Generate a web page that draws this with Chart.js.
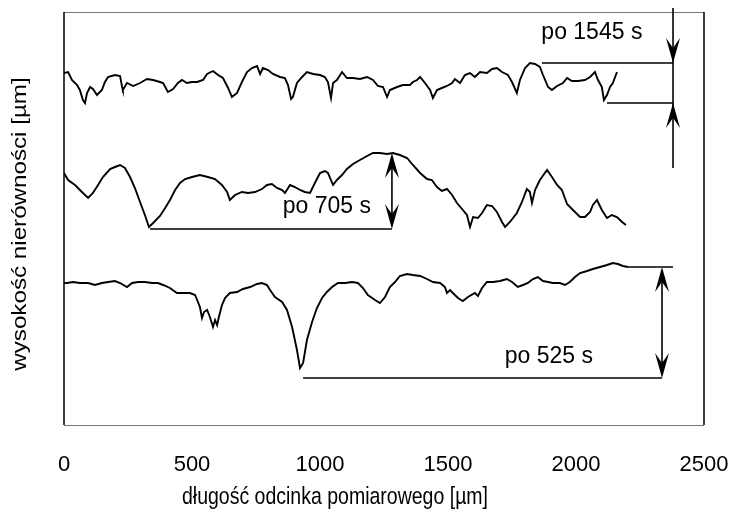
<!DOCTYPE html>
<html>
<head>
<meta charset="utf-8">
<script src="https://cdn.jsdelivr.net/npm/chart.js@4.4.1/dist/chart.umd.min.js"></script>
<style>
  html, body { margin: 0; padding: 0; background: #fff; }
  #wrap { width: 734px; height: 517px; }
</style>
</head>
<body>
<div id="wrap"><canvas id="profileChart" width="734" height="517"></canvas></div>
<script>
// x: długość odcinka [µm], y: wysokość (jednostki względne, bez skali)
const xTicks = [0, 500, 1000, 1500, 2000, 2500];
const xTitle = "długość odcinka pomiarowego [µm]";
const yTitle = "wysokość nierówności [µm]";

const profile1545X = [0, 16, 31, 51, 62, 74, 82, 90, 102, 113, 129, 148, 160, 172, 199, 219, 227, 230, 246, 270, 297, 324, 348, 375, 387, 406, 426, 445, 461, 480, 500, 520, 543, 559, 582, 602, 621, 641, 656, 676, 695, 715, 734, 754, 766, 777, 797, 816, 844, 863, 875, 887, 894, 910, 930, 949, 973, 1000, 1019, 1031, 1043, 1051, 1066, 1086, 1105, 1129, 1156, 1184, 1207, 1226, 1246, 1262, 1273, 1301, 1324, 1351, 1363, 1379, 1391, 1410, 1430, 1441, 1457, 1476, 1496, 1516, 1527, 1547, 1566, 1586, 1605, 1625, 1652, 1672, 1691, 1711, 1734, 1750, 1769, 1781, 1801, 1820, 1840, 1859, 1871, 1891, 1906, 1926, 1949, 1965, 1984, 2008, 2035, 2055, 2074, 2086, 2101, 2109, 2121, 2133, 2144, 2160];
const profile1545Y = [352, 353, 345, 340, 335, 325, 322, 332, 338, 336, 330, 335, 343, 348, 350, 349, 338, 335, 342, 339, 342, 346, 345, 343, 342, 333, 336, 342, 345, 342, 343, 343, 345, 351, 354, 350, 347, 337, 328, 332, 343, 353, 357, 359, 351, 357, 355, 351, 348, 347, 340, 326, 328, 342, 348, 353, 351, 350, 348, 343, 327, 342, 345, 353, 347, 347, 346, 348, 345, 339, 338, 328, 335, 338, 340, 340, 343, 345, 348, 342, 335, 327, 335, 337, 339, 342, 346, 342, 350, 352, 348, 353, 352, 356, 357, 353, 350, 343, 332, 345, 357, 362, 361, 358, 350, 338, 335, 339, 342, 347, 344, 344, 345, 348, 353, 345, 338, 325, 330, 338, 342, 353];

const profile705X = [0, 16, 43, 70, 94, 113, 133, 152, 180, 199, 219, 238, 258, 277, 297, 316, 332, 348, 375, 395, 414, 434, 453, 473, 500, 531, 562, 590, 617, 637, 648, 668, 695, 719, 746, 773, 793, 812, 832, 852, 863, 883, 902, 922, 941, 961, 980, 1000, 1019, 1031, 1051, 1066, 1086, 1105, 1129, 1156, 1184, 1207, 1234, 1262, 1285, 1312, 1340, 1363, 1391, 1418, 1437, 1457, 1476, 1496, 1516, 1535, 1558, 1574, 1586, 1598, 1617, 1633, 1652, 1672, 1691, 1711, 1723, 1742, 1769, 1789, 1808, 1820, 1828, 1840, 1859, 1887, 1906, 1926, 1945, 1965, 1988, 2016, 2035, 2055, 2066, 2082, 2101, 2121, 2140, 2160, 2180, 2195];
const profile705Y = [252, 245, 240, 233, 227, 232, 240, 248, 256, 258, 260, 257, 248, 237, 223, 210, 198, 202, 209, 217, 225, 235, 242, 246, 248, 250, 248, 246, 240, 233, 225, 230, 233, 232, 233, 236, 240, 241, 237, 235, 232, 240, 238, 235, 233, 232, 242, 252, 254, 252, 240, 245, 250, 256, 261, 265, 269, 272, 272, 271, 272, 270, 267, 260, 252, 246, 245, 238, 234, 236, 230, 222, 215, 210, 198, 208, 207, 212, 220, 219, 213, 203, 198, 203, 212, 223, 236, 233, 222, 235, 245, 255, 248, 240, 235, 221, 215, 208, 208, 213, 220, 225, 215, 207, 210, 208, 203, 200];

const profile525X = [0, 12, 35, 62, 94, 121, 148, 172, 199, 219, 246, 266, 289, 316, 344, 367, 387, 414, 441, 465, 492, 512, 520, 531, 539, 547, 559, 570, 582, 590, 598, 605, 617, 629, 648, 676, 699, 727, 754, 773, 793, 805, 824, 852, 871, 891, 910, 922, 934, 949, 969, 988, 1008, 1027, 1047, 1070, 1098, 1125, 1148, 1168, 1187, 1215, 1234, 1254, 1273, 1293, 1312, 1340, 1363, 1391, 1418, 1441, 1469, 1488, 1496, 1508, 1519, 1539, 1558, 1578, 1605, 1617, 1633, 1652, 1676, 1703, 1730, 1750, 1773, 1793, 1812, 1832, 1851, 1871, 1891, 1910, 1937, 1957, 1976, 1996, 2016, 2043, 2066, 2094, 2121, 2144, 2164, 2183, 2203];
const profile525Y = [142, 142, 143, 142, 142, 140, 142, 143, 144, 142, 138, 142, 143, 143, 142, 142, 140, 137, 132, 132, 132, 130, 125, 118, 107, 113, 115, 108, 98, 105, 100, 108, 120, 127, 132, 133, 136, 138, 141, 142, 140, 135, 128, 123, 115, 98, 75, 57, 62, 85, 103, 117, 127, 133, 138, 142, 142, 143, 142, 137, 130, 125, 122, 128, 138, 143, 149, 151, 150, 149, 146, 143, 142, 138, 132, 135, 132, 127, 124, 128, 132, 129, 137, 143, 143, 144, 146, 143, 138, 140, 142, 146, 148, 144, 143, 142, 142, 140, 143, 148, 152, 154, 156, 158, 160, 162, 161, 159, 158];

// poziomy odniesienia (linie pomocnicze) i strzałki wymiarowe
const labels = ["po 1545 s", "po 705 s", "po 525 s"];
const labelX = [2062, 1027, 1894];
const labelY = [392, 218, 68];
// [x od, x do, y]
const guide1545 = [[1867, 2379, 362], [2121, 2379, 322]];
const guide705 = [[336, 1281, 196]];
const guide525 = [[2203, 2379, 158], [934, 2336, 47]];
// [x, y od, y do]
const dim1545 = [2379, 417, 257];
const dim705 = [1281, 272, 196];
const dim525 = [2336, 158, 47];

const pts = (xs, ys) => xs.map((x, i) => ({ x: x, y: ys[i] }));

const FONT = "'Liberation Sans', Arial, Helvetica, sans-serif";

function arrowHead(ctx, x, y, dir) {
    // dir = 1 -> grot w dół, -1 -> grot w górę
    ctx.beginPath();
    ctx.moveTo(x, y);
    ctx.lineTo(x - 7, y - dir * 25);
    ctx.lineTo(x, y - dir * 15);
    ctx.lineTo(x + 7, y - dir * 25);
    ctx.closePath();
    ctx.fill();
}

const annotationPlugin = {
    id: "annotations",
    afterDraw(chart) {
        const ctx = chart.ctx;
        const xs = chart.scales.x;
        const ys = chart.scales.y;
        const a = chart.chartArea;
        ctx.save();

        // ramka wykresu
        ctx.lineWidth = 1;
        ctx.strokeStyle = "#777";
        ctx.beginPath();
        ctx.moveTo(a.left, a.top + 0.5);
        ctx.lineTo(a.right, a.top + 0.5);
        ctx.moveTo(a.left, a.bottom + 0.5);
        ctx.lineTo(a.right, a.bottom + 0.5);
        ctx.stroke();
        ctx.strokeStyle = "#000";
        ctx.lineWidth = 1.5;
        ctx.beginPath();
        ctx.moveTo(a.left, a.top);
        ctx.lineTo(a.left, a.bottom);
        ctx.moveTo(a.right, a.top);
        ctx.lineTo(a.right, a.bottom);
        ctx.stroke();

        ctx.strokeStyle = "#000";
        ctx.fillStyle = "#000";
        ctx.lineWidth = 1.6;
        [...guide1545, ...guide705, ...guide525].forEach(([x0, x1, y]) => {
            ctx.beginPath();
            ctx.moveTo(xs.getPixelForValue(x0), ys.getPixelForValue(y));
            ctx.lineTo(xs.getPixelForValue(x1), ys.getPixelForValue(y));
            ctx.stroke();
        });

        // 1545 s: strzałki skierowane do środka
        let px = xs.getPixelForValue(dim1545[0]);
        ctx.beginPath();
        ctx.moveTo(px, ys.getPixelForValue(dim1545[1]));
        ctx.lineTo(px, ys.getPixelForValue(dim1545[2]));
        ctx.stroke();
        arrowHead(ctx, px, ys.getPixelForValue(guide1545[0][2]), 1);
        arrowHead(ctx, px, ys.getPixelForValue(guide1545[1][2]), -1);

        // 705 s i 525 s: strzałki dwustronne
        [dim705, dim525].forEach(([x, y0, y1]) => {
            const p = xs.getPixelForValue(x);
            const top = ys.getPixelForValue(y0);
            const bot = ys.getPixelForValue(y1);
            ctx.beginPath();
            ctx.moveTo(p, top + 10);
            ctx.lineTo(p, bot - 10);
            ctx.stroke();
            arrowHead(ctx, p, top, -1);
            arrowHead(ctx, p, bot, 1);
        });

        ctx.font = "23px " + FONT;
        ctx.textAlign = "center";
        ctx.textBaseline = "middle";
        labels.forEach((t, i) => {
            ctx.fillText(t, xs.getPixelForValue(labelX[i]), ys.getPixelForValue(labelY[i]));
        });

        // tytuły osi (czcionka lekko wydłużona w pionie jak w oryginale)
        ctx.font = "19.5px " + FONT;
        ctx.save();
        ctx.translate(335, 497);
        ctx.scale(1, 1.22);
        ctx.fillText(xTitle, 0, 0);
        ctx.restore();
        ctx.save();
        ctx.translate(21, 224);
        ctx.rotate(-Math.PI / 2);
        ctx.scale(1.24, 1);
        ctx.fillText(yTitle, 0, 0);
        ctx.restore();

        ctx.restore();
    }
};

const ctx = document.getElementById("profileChart").getContext("2d");
const chart = new Chart(ctx, {
    type: "line",
    data: {
        datasets: [
            { label: labels[0], data: pts(profile1545X, profile1545Y) },
            { label: labels[1], data: pts(profile705X, profile705Y) },
            { label: labels[2], data: pts(profile525X, profile525Y) }
        ]
    },
    options: {
        responsive: false,
        animation: false,
        devicePixelRatio: 1,
        layout: { padding: { top: 12, right: 30, left: 0, bottom: 0 } },
        elements: {
            line: { borderColor: "#000", borderWidth: 1.9, tension: 0 },
            point: { radius: 0 }
        },
        plugins: {
            legend: { display: false },
            tooltip: { enabled: false }
        },
        scales: {
            x: {
                type: "linear",
                min: 0,
                max: 2500,
                afterBuildTicks: (s) => { s.ticks = xTicks.map(v => ({ value: v })); },
                afterFit: (s) => {
                    s.height = 92;
                    s.paddingLeft = 0;
                    s.paddingRight = 0;
                },
                grid: { display: false, drawTicks: false },
                border: { display: false },
                ticks: {
                    padding: 27,
                    color: "#000",
                    maxRotation: 0,
                    callback: (v) => String(v),
                    font: { family: FONT, size: 22 }
                },
                title: { display: false, text: xTitle }
            },
            y: {
                type: "linear",
                min: 0,
                max: 413,
                afterFit: (s) => { s.width = 64; },
                grid: { display: false, drawTicks: false },
                border: { display: false },
                ticks: { display: false },
                title: { display: false, text: yTitle }
            }
        }
    },
    plugins: [annotationPlugin]
});
</script>
</body>
</html>
